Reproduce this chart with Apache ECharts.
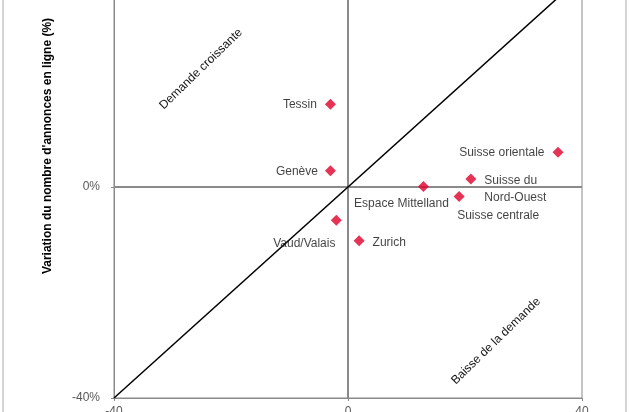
<!DOCTYPE html>
<html>
<head>
<meta charset="utf-8">
<script src="https://cdn.jsdelivr.net/npm/echarts@6/dist/echarts.min.js"></script>
<style>
  html, body { margin: 0; padding: 0; background: #fff; }
  #chart { width: 630px; height: 412px; }
</style>
</head>
<body>
<div id="chart"></div>
<script>
// ---- Data ----
var regions = ['Tessin', 'Genève', 'Suisse orientale', 'Suisse du Nord-Ouest', 'Espace Mittelland', 'Suisse centrale', 'Vaud/Valais', 'Zurich'];
var xValues = [-3.0, -3.0, 35.9, 21.0, 12.9, 19.0, -2.0, 1.9];
var yValues = [15.7, 3.1, 6.6, 1.5, 0.1, -1.8, -6.3, -10.2];
var diagonalX = [-40, 40];
var diagonalY = [-40, 40];
var xTicks = [-40, 0, 40];
var yTicks = [-40, 0, 40];

// ---- Label styling (kept separate from data) ----
var FONT = '"Liberation Sans", Arial, sans-serif';
var labelStyles = {
  'Tessin': { position: 'left', distance: 8, offset: [0, 1] },
  'Genève': { position: 'left', distance: 7, offset: [0, 1] },
  'Suisse orientale': { position: 'left', distance: 8, offset: [0, 1] },
  'Suisse du Nord-Ouest': { position: 'right', distance: 8, formatter: 'Suisse du\nNord-Ouest', lineHeight: 17, offset: [0, 10.5], align: 'left' },
  'Espace Mittelland': { position: 'inside', offset: [-22, 17.5] },
  'Suisse centrale': { position: 'inside', offset: [39, 19.5] },
  'Vaud/Valais': { position: 'inside', offset: [-32, 23.5] },
  'Zurich': { position: 'right', distance: 8, offset: [0, 1.5] }
};

var scatterData = regions.map(function (name, i) {
  var ls = labelStyles[name] || {};
  return {
    name: name,
    value: [xValues[i], yValues[i]],
    label: Object.assign({
      show: true,
      formatter: name,
      color: '#111',
      fontSize: 12,
      fontFamily: FONT
    }, ls)
  };
});

var diagonalData = diagonalX.map(function (x, i) { return [x, diagonalY[i]]; });

var chart = echarts.init(document.getElementById('chart'), null, { renderer: 'canvas' });

var axisGray = '#8a8a8a';

var option = {
  animation: false,
  backgroundColor: '#ffffff',
  grid: {
    left: 114, right: 48, top: -24, bottom: 14,
    outerBoundsMode: 'none',
    containLabel: false,
    show: true, borderColor: axisGray, borderWidth: 1, backgroundColor: 'transparent'
  },
  xAxis: {
    type: 'value',
    min: xTicks[0], max: xTicks[xTicks.length - 1], interval: 40,
    axisLine: { show: true, onZero: false, lineStyle: { color: axisGray, width: 1 } },
    axisTick: { show: true, length: 3, lineStyle: { color: axisGray } },
    splitLine: { show: false },
    axisLabel: { color: '#595959', fontSize: 12, fontFamily: FONT, margin: 8,
      formatter: function (v) { return String(v); } }
  },
  yAxis: {
    type: 'value',
    min: yTicks[0], max: yTicks[yTicks.length - 1], interval: 40,
    axisLine: { show: true, onZero: false, lineStyle: { color: axisGray, width: 1 } },
    axisTick: { show: true, length: 3, lineStyle: { color: axisGray } },
    splitLine: { show: false },
    axisLabel: { color: '#595959', fontSize: 12, fontFamily: FONT, margin: 14,
      formatter: function (v) { return v + '%'; } }
  },
  series: [
    {
      type: 'line',
      data: diagonalData,
      showSymbol: false,
      symbol: 'none',
      silent: true,
      lineStyle: { color: '#000', width: 1.5 },
      z: 3,
      markLine: {
        silent: true,
        symbol: 'none',
        label: { show: false },
        lineStyle: { color: axisGray, width: 2, type: 'solid' },
        data: [{ xAxis: 0 }, { yAxis: 0 }],
        z: 2
      }
    },
    {
      type: 'scatter',
      symbol: 'diamond',
      symbolSize: 11,
      itemStyle: { color: '#E0002A' },
      data: scatterData,
      z: 5
    }
  ],
  graphic: [
    { type: 'line', shape: { x1: 3, y1: 0, x2: 3, y2: 412 }, style: { stroke: '#d4d4d4', lineWidth: 2 } },
    { type: 'line', shape: { x1: 626, y1: 0, x2: 626, y2: 412 }, style: { stroke: '#d4d4d4', lineWidth: 2 } },
    {
      type: 'text', x: 48, y: 146, rotation: Math.PI / 2,
      style: { text: "Variation du nombre d'annonces en ligne (%)", fill: '#000', font: 'bold 12px ' + FONT, textAlign: 'center', textVerticalAlign: 'middle' }
    },
    {
      type: 'text', x: 201, y: 69, rotation: Math.PI / 4 * 0.98,
      style: { text: 'Demande croissante', fill: '#111', font: '12px ' + FONT, textAlign: 'center', textVerticalAlign: 'middle' }
    },
    {
      type: 'text', x: 496, y: 341, rotation: Math.PI / 4 * 0.98,
      style: { text: 'Baisse de la demande', fill: '#111', font: '12px ' + FONT, textAlign: 'center', textVerticalAlign: 'middle' }
    }
  ]
};

chart.setOption(option);
</script>
</body>
</html>
